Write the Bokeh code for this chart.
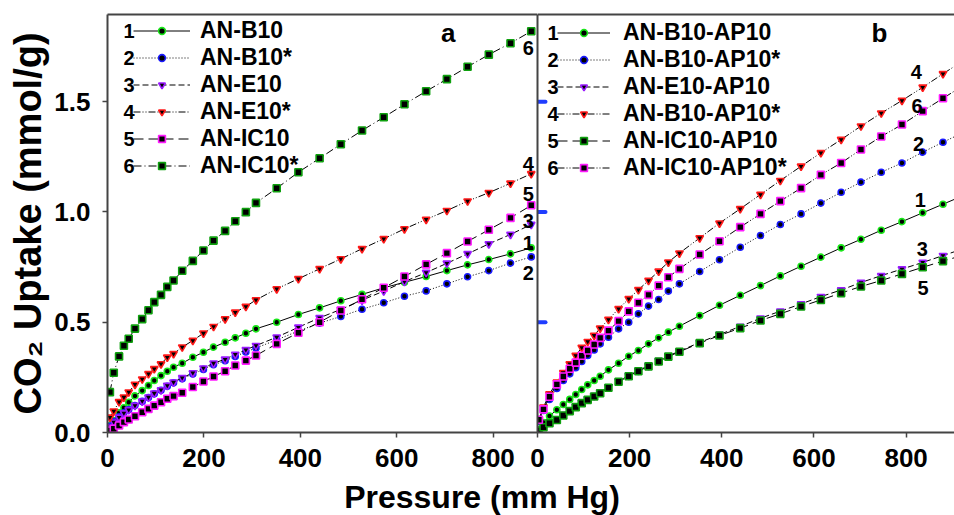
from bokeh.plotting import figure
from bokeh.layouts import column, row
from bokeh.models import (Range1d, FixedTicker, LinearAxis, Legend, LegendItem, Label,
                          PrintfTickFormatter)
from bokeh.embed import file_html
from bokeh.resources import INLINE

FONT = "Liberation Sans"
AXIS_COLOR = "#444444"

# ---- panel a: CO2 uptake of the AN series (mmol/g) vs pressure (mm Hg) ----
pressure_a = [5, 13, 24, 34, 44, 57, 72, 85, 97, 111, 124, 137, 155, 177, 199, 220, 244,
              265, 287, 308, 351, 396, 440, 484, 528, 573, 616, 661, 704, 747, 791, 836, 879]

an_b10 = [0.030, 0.054, 0.089, 0.112, 0.137, 0.166, 0.190, 0.213, 0.236, 0.258, 0.278,
          0.296, 0.314, 0.341, 0.364, 0.387, 0.409, 0.429, 0.450, 0.470, 0.500, 0.535,
          0.565, 0.597, 0.626, 0.656, 0.681, 0.707, 0.734, 0.760, 0.784, 0.810, 0.837]
an_b10_s = [0.028, 0.050, 0.071, 0.089, 0.104, 0.122, 0.141, 0.159, 0.176, 0.191, 0.210,
            0.225, 0.244, 0.265, 0.286, 0.307, 0.325, 0.345, 0.365, 0.383, 0.420, 0.460,
            0.496, 0.526, 0.559, 0.588, 0.618, 0.642, 0.674, 0.706, 0.734, 0.768, 0.796]
an_e10 = [0.024, 0.047, 0.069, 0.088, 0.103, 0.122, 0.142, 0.160, 0.178, 0.193, 0.213,
          0.228, 0.248, 0.270, 0.292, 0.314, 0.332, 0.354, 0.375, 0.394, 0.432, 0.477,
          0.520, 0.558, 0.600, 0.641, 0.684, 0.725, 0.767, 0.810, 0.855, 0.898, 0.943]
an_e10_s = [0.069, 0.097, 0.139, 0.160, 0.183, 0.218, 0.242, 0.266, 0.289, 0.311, 0.341,
            0.357, 0.387, 0.417, 0.450, 0.480, 0.515, 0.545, 0.571, 0.601, 0.651, 0.697,
            0.742, 0.787, 0.833, 0.878, 0.923, 0.966, 1.006, 1.049, 1.087, 1.130, 1.173]
an_ic10 = [0.009, 0.017, 0.032, 0.047, 0.059, 0.074, 0.092, 0.107, 0.122, 0.137, 0.153,
           0.165, 0.180, 0.206, 0.231, 0.254, 0.278, 0.304, 0.326, 0.349, 0.402, 0.452,
           0.500, 0.553, 0.604, 0.656, 0.707, 0.762, 0.813, 0.866, 0.919, 0.973, 1.030]
an_ic10_s = [0.183, 0.271, 0.345, 0.393, 0.425, 0.471, 0.514, 0.554, 0.591, 0.624, 0.660,
             0.689, 0.733, 0.778, 0.825, 0.870, 0.914, 0.958, 0.999, 1.041, 1.107, 1.180,
             1.243, 1.307, 1.369, 1.429, 1.488, 1.547, 1.602, 1.658, 1.713, 1.765, 1.819]

names_a = ["AN-B10", "AN-B10*", "AN-E10", "AN-E10*", "AN-IC10", "AN-IC10*"]

# ---- panel b: the AP10 series ----
pressure_b = [3, 13, 26, 42, 56, 70, 83, 96, 109, 123, 136, 154, 176, 198, 219, 241, 263,
              284, 308, 352, 395, 440, 484, 527, 572, 615, 659, 702, 746, 791, 836, 880, 924]

b10_ap10 = [0.012, 0.045, 0.075, 0.103, 0.127, 0.150, 0.172, 0.195, 0.216, 0.236, 0.255,
            0.284, 0.314, 0.346, 0.372, 0.402, 0.429, 0.455, 0.482, 0.530, 0.577, 0.622,
            0.666, 0.710, 0.754, 0.795, 0.837, 0.876, 0.917, 0.956, 0.996, 1.035, 1.074]
b10_ap10_s = [0.050, 0.100, 0.150, 0.200, 0.236, 0.266, 0.294, 0.322, 0.349, 0.374, 0.402,
              0.432, 0.470, 0.500, 0.538, 0.573, 0.603, 0.641, 0.674, 0.730, 0.783, 0.840,
              0.893, 0.943, 0.991, 1.040, 1.089, 1.135, 1.180, 1.222, 1.271, 1.316, 1.360]
e10_ap10 = [0.012, 0.028, 0.046, 0.061, 0.081, 0.101, 0.119, 0.137, 0.152, 0.167, 0.183,
            0.206, 0.233, 0.258, 0.281, 0.303, 0.325, 0.347, 0.369, 0.408, 0.444, 0.481,
            0.518, 0.550, 0.583, 0.616, 0.646, 0.680, 0.711, 0.741, 0.771, 0.802, 0.833]
b10_ap10_s2 = [0.060, 0.115, 0.175, 0.228, 0.271, 0.311, 0.349, 0.385, 0.412, 0.440, 0.473,
               0.512, 0.561, 0.606, 0.647, 0.689, 0.731, 0.772, 0.813, 0.882, 0.949, 1.014,
               1.079, 1.142, 1.207, 1.268, 1.328, 1.389, 1.448, 1.505, 1.565, 1.626, 1.686]
ic10_ap10 = [0.009, 0.024, 0.042, 0.057, 0.077, 0.097, 0.115, 0.133, 0.148, 0.163, 0.178,
             0.203, 0.230, 0.255, 0.278, 0.300, 0.322, 0.344, 0.366, 0.405, 0.440, 0.473,
             0.508, 0.538, 0.571, 0.601, 0.632, 0.662, 0.689, 0.719, 0.749, 0.777, 0.804]
ic10_ap10_s = [0.058, 0.105, 0.162, 0.218, 0.254, 0.289, 0.317, 0.348, 0.372, 0.399, 0.429,
               0.462, 0.505, 0.549, 0.588, 0.624, 0.666, 0.704, 0.742, 0.807, 0.867, 0.931,
               0.991, 1.049, 1.108, 1.168, 1.222, 1.283, 1.342, 1.396, 1.457, 1.515, 1.573]

names_b = ["AN-B10-AP10", "AN-B10-AP10*", "AN-E10-AP10", "AN-B10-AP10*", "AN-IC10-AP10",
           "AN-IC10-AP10*"]

x_ticks = [0, 200, 400, 600, 800]
y_ticks = [0.0, 0.5, 1.0, 1.5]
b_axis_marks = [0.5, 1.0, 1.5]   # blue tick marks on the shared middle axis
Y_MAX = 1.895

# line dash, marker, marker colour for each curve
styles_a = [("solid", "circle", "#19e619"),
            ("1 2", "circle", "#1a1aff"),
            ("6 3", "inverted_triangle", "#9a1aff"),
            ("7 2 1 2 1 2", "inverted_triangle", "#ff1a1a"),
            ("10 5", "square", "#ff1aff"),
            ("8 3 1 3", "square", "#0fa00f")]
styles_b = [("solid", "circle", "#19e619"),
            ("1 2", "circle", "#1a1aff"),
            ("6 3", "inverted_triangle", "#9a1aff"),
            ("7 2 1 2 1 2", "inverted_triangle", "#ff1a1a"),
            ("10 5", "square", "#0fa00f"),
            ("7 2 1 2 1 2", "square", "#ff1aff")]
marker_size = {"circle": 6, "inverted_triangle": 7.5, "square": 7}

ROW_H = 478
FRAME_BOTTOM = 432
OVERLAP = 10   # right canvas slides under the left one so its "0" label fits
ROW_PITCH = 27
N_ROWS = 6


def make_panel(width, x_end, min_left):
    p = figure(width=width, height=ROW_H, x_range=Range1d(0, x_end),
               y_range=Range1d(0, Y_MAX), output_backend="svg", toolbar_location=None,
               min_border_left=min_left, min_border_right=0, min_border_top=14,
               min_border_bottom=ROW_H - FRAME_BOTTOM, x_axis_location=None,
               y_axis_location=None)
    p.outline_line_color = None
    p.grid.visible = False
    p.background_fill_color = "white"

    xa = LinearAxis(ticker=FixedTicker(ticks=x_ticks), major_tick_in=0, major_tick_out=5,
                    minor_tick_line_color=None, major_label_standoff=11,
                    axis_line_color=AXIS_COLOR, axis_line_width=2,
                    major_tick_line_color=AXIS_COLOR, major_tick_line_width=1.5,
                    major_label_text_font=FONT, major_label_text_font_style="bold",
                    major_label_text_font_size="26px", major_label_text_color="black")
    p.add_layout(xa, "below")

    top = LinearAxis(ticker=FixedTicker(ticks=[]), major_label_standoff=0,
                     major_tick_line_color=None, minor_tick_line_color=None,
                     axis_line_color=AXIS_COLOR, axis_line_width=2)
    p.add_layout(top, "above")
    return p


def draw_curves(p, pressure, curves, names, styles, legend_x, legend_top, glyph_w, standoff):
    items = []
    for ys, name, (dash, marker, color) in zip(curves, names, styles):
        ln = p.line(pressure, ys, line_color="black", line_width=1, line_dash=dash)
        sc = p.scatter(pressure, ys, marker=marker, size=marker_size[marker],
                       line_color=color, line_width=1.6, fill_color="black")
        items.append(LegendItem(label=name, renderers=[ln, sc]))
    legend_h = N_ROWS * ROW_PITCH
    legend_y = FRAME_BOTTOM - legend_top - legend_h   # bottom edge, measured up from the frame
    leg = Legend(items=items, location=(legend_x, legend_y), padding=0, margin=0,
                 spacing=0, glyph_width=glyph_w, glyph_height=17, label_height=ROW_PITCH,
                 label_standoff=standoff, background_fill_alpha=0, border_line_color=None,
                 label_text_font=FONT, label_text_font_style="bold",
                 label_text_font_size="23px", label_text_color="black")
    p.add_layout(leg)
    # numbers in front of the legend rows
    for i in range(len(names)):
        p.add_layout(Label(x=legend_x + 1,
                           y=legend_y + legend_h - ROW_PITCH / 2 - ROW_PITCH * i,
                           x_units="screen", y_units="screen", text=str(i + 1),
                           text_align="right", text_baseline="middle", text_font=FONT,
                           text_font_style="bold", text_font_size="20px",
                           text_color="black"))


def end_labels(p, xs, ys, texts):
    for x, y, t in zip(xs, ys, texts):
        p.add_layout(Label(x=x, y=y, text=t, text_align="center", text_baseline="middle",
                           text_font=FONT, text_font_style="bold", text_font_size="20px",
                           text_color="black"))


# ---- left panel ----
pa = make_panel(537, 892, 107)
pa.border_fill_color = "white"
ya = LinearAxis(ticker=FixedTicker(ticks=y_ticks), formatter=PrintfTickFormatter(format="%.1f"),
                major_tick_in=0, major_tick_out=5, minor_tick_line_color=None,
                major_label_standoff=12, axis_line_color=AXIS_COLOR, axis_line_width=2,
                major_tick_line_color=AXIS_COLOR, major_tick_line_width=1.5,
                major_label_text_font=FONT, major_label_text_font_style="bold",
                major_label_text_font_size="26px", major_label_text_color="black",
                axis_label="CO₂ Uptake (mmol/g)", axis_label_standoff=2,
                axis_label_text_font=FONT, axis_label_text_font_style="bold",
                axis_label_text_font_size="38px", axis_label_text_color="black")
pa.add_layout(ya, "left")
draw_curves(pa, pressure_a, [an_b10, an_b10_s, an_e10, an_e10_s, an_ic10, an_ic10_s],
            names_a, styles_a, 26, 17, 57, 10)
end_labels(pa, [873] * 6, [1.745, 1.219, 1.079, 0.961, 0.861, 0.725],
           ["6", "4", "5", "3", "1", "2"])
pa.add_layout(Label(x=707, y=1.813, text="a", text_align="center", text_baseline="middle",
                    text_font=FONT, text_font_style="bold", text_font_size="26px",
                    text_color="black"))

# ---- right panel (transparent left border overlaps the left canvas) ----
pb = make_panel(417 + OVERLAP, 905, OVERLAP)
pb.border_fill_color = None
pb.margin = (0, 0, 0, -OVERLAP)
yb = LinearAxis(ticker=FixedTicker(ticks=[]), major_label_standoff=0,
                major_tick_line_color=None, minor_tick_line_color=None,
                axis_line_color=AXIS_COLOR, axis_line_width=2)
pb.add_layout(yb, "left")
pb.scatter([0] * len(b_axis_marks), b_axis_marks, marker="dash", size=16,
           line_color="#1f3dff", line_width=4, line_cap="round")
draw_curves(pb, pressure_b, [b10_ap10, b10_ap10_s, e10_ap10, b10_ap10_s2, ic10_ap10,
                             ic10_ap10_s],
            names_b, styles_b, 20, 19, 53, 13)
end_labels(pb, [822, 824, 827, 831, 835, 837], [1.636, 1.478, 1.306, 1.056, 0.830, 0.653],
           ["4", "6", "2", "1", "3", "5"])
pb.add_layout(Label(x=742, y=1.813, text="b", text_align="center", text_baseline="middle",
                    text_font=FONT, text_font_style="bold", text_font_size="26px",
                    text_color="black"))

# ---- shared x-axis title strip ----
pt = figure(width=954, height=515 - ROW_H, x_range=Range1d(0, 954),
            y_range=Range1d(0, 515 - ROW_H), output_backend="svg", toolbar_location=None,
            min_border=0, x_axis_location=None, y_axis_location=None)
pt.outline_line_color = None
pt.grid.visible = False
pt.add_layout(Label(x=481.5, y=18.5, text="Pressure (mm Hg)", text_align="center",
                    text_baseline="middle", text_font=FONT, text_font_style="bold",
                    text_font_size="32px", text_color="black"))

layout = column(row(pa, pb, spacing=0), pt, spacing=0)
open("out.html", "w").write(file_html(layout, INLINE))
